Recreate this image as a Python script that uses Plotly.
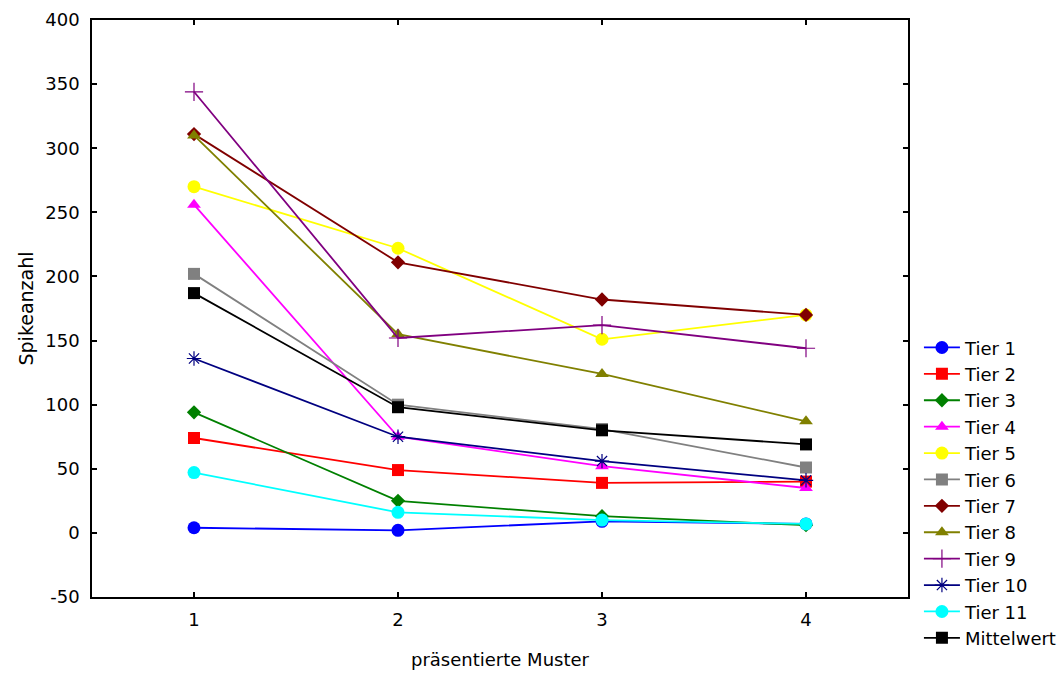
import plotly.graph_objects as go

x_muster = [1, 2, 3, 4]
y_ticks = [-50, 0, 50, 100, 150, 200, 250, 300, 350, 400]
y_ticktext = ["-50", "0", "50", "100", "150", "200", "250", "300", "350", "400"]
tier1 = [4, 2, 9, 7]
tier2 = [74, 49, 39, 40]
tier3 = [94, 25, 13, 6]
tier4 = [256, 75, 52, 35]
tier5 = [270, 222, 151, 170]
tier6 = [202, 100, 81, 51]
tier7 = [311, 211, 182, 170]
tier8 = [310, 155, 124, 87]
tier9 = [344, 152, 162, 144]
tier10 = [136, 75, 56, 41]
tier11 = [47, 16, 10, 7]
mittelwert = [187, 98, 80, 69]

names = ["Tier 1", "Tier 2", "Tier 3", "Tier 4", "Tier 5", "Tier 6", "Tier 7",
         "Tier 8", "Tier 9", "Tier 10", "Tier 11", "Mittelwert"]
series = [tier1, tier2, tier3, tier4, tier5, tier6, tier7, tier8, tier9, tier10, tier11, mittelwert]
colors = ["#0000ff", "#ff0000", "#008000", "#ff00ff", "#ffff00", "#808080", "#800000",
          "#808000", "#800080", "#000080", "#00ffff", "#000000"]
symbols = ["circle", "square", "diamond", "triangle-up", "circle", "square", "diamond",
           "triangle-up", "cross-thin-open", "asterisk-open", "circle", "square"]
sizes = [13, 12, 11, 12, 13, 12, 11, 12, 13, 12, 13, 12]

FONT = "DejaVu Sans, Liberation Sans, Arial, sans-serif"

fig = go.Figure()
for n, s, c, sym, sz in zip(names, series, colors, symbols, sizes):
    marker = dict(symbol=sym, size=sz, color=c)
    if sym.endswith("open"):
        marker["line"] = dict(color="#a050a0" if n == "Tier 9" else c, width=1.2)
    fig.add_trace(go.Scatter(
        x=x_muster, y=s, name=n, mode="lines+markers",
        line=dict(color=c, width=1.8), marker=marker,
    ))

axis_common = dict(
    showline=True, linecolor="black", linewidth=1.5, mirror="ticks",
    ticks="inside", ticklen=5, tickwidth=1.5, tickcolor="black",
    showgrid=False, zeroline=False, automargin=False,
    tickfont=dict(family=FONT, size=18, color="black"),
)

fig.update_layout(
    width=1063, height=673,
    margin=dict(l=92, r=155, t=20, b=76, autoexpand=False),
    paper_bgcolor="white", plot_bgcolor="white",
    font=dict(family=FONT, size=18, color="black"),
    xaxis=dict(range=[0.5, 4.5], tickvals=x_muster, ticktext=["1", "2", "3", "4"],
               ticklabelstandoff=6,
               title=dict(text="präsentierte Muster", standoff=24,
                          font=dict(family=FONT, size=18, color="black")),
               **axis_common),
    yaxis=dict(range=[-50, 400], tickvals=y_ticks, ticktext=y_ticktext,
               ticklabelstandoff=7,
               title=dict(text="Spikeanzahl", standoff=7,
                          font=dict(family=FONT, size=19, color="black")),
               **axis_common),
    legend=dict(x=1.0134, y=0.464, xanchor="left", yanchor="top",
                font=dict(family=FONT, size=18, color="black"),
                bgcolor="rgba(0,0,0,0)", itemwidth=36),
    showlegend=True,
)

fig.write_html("out.html")
